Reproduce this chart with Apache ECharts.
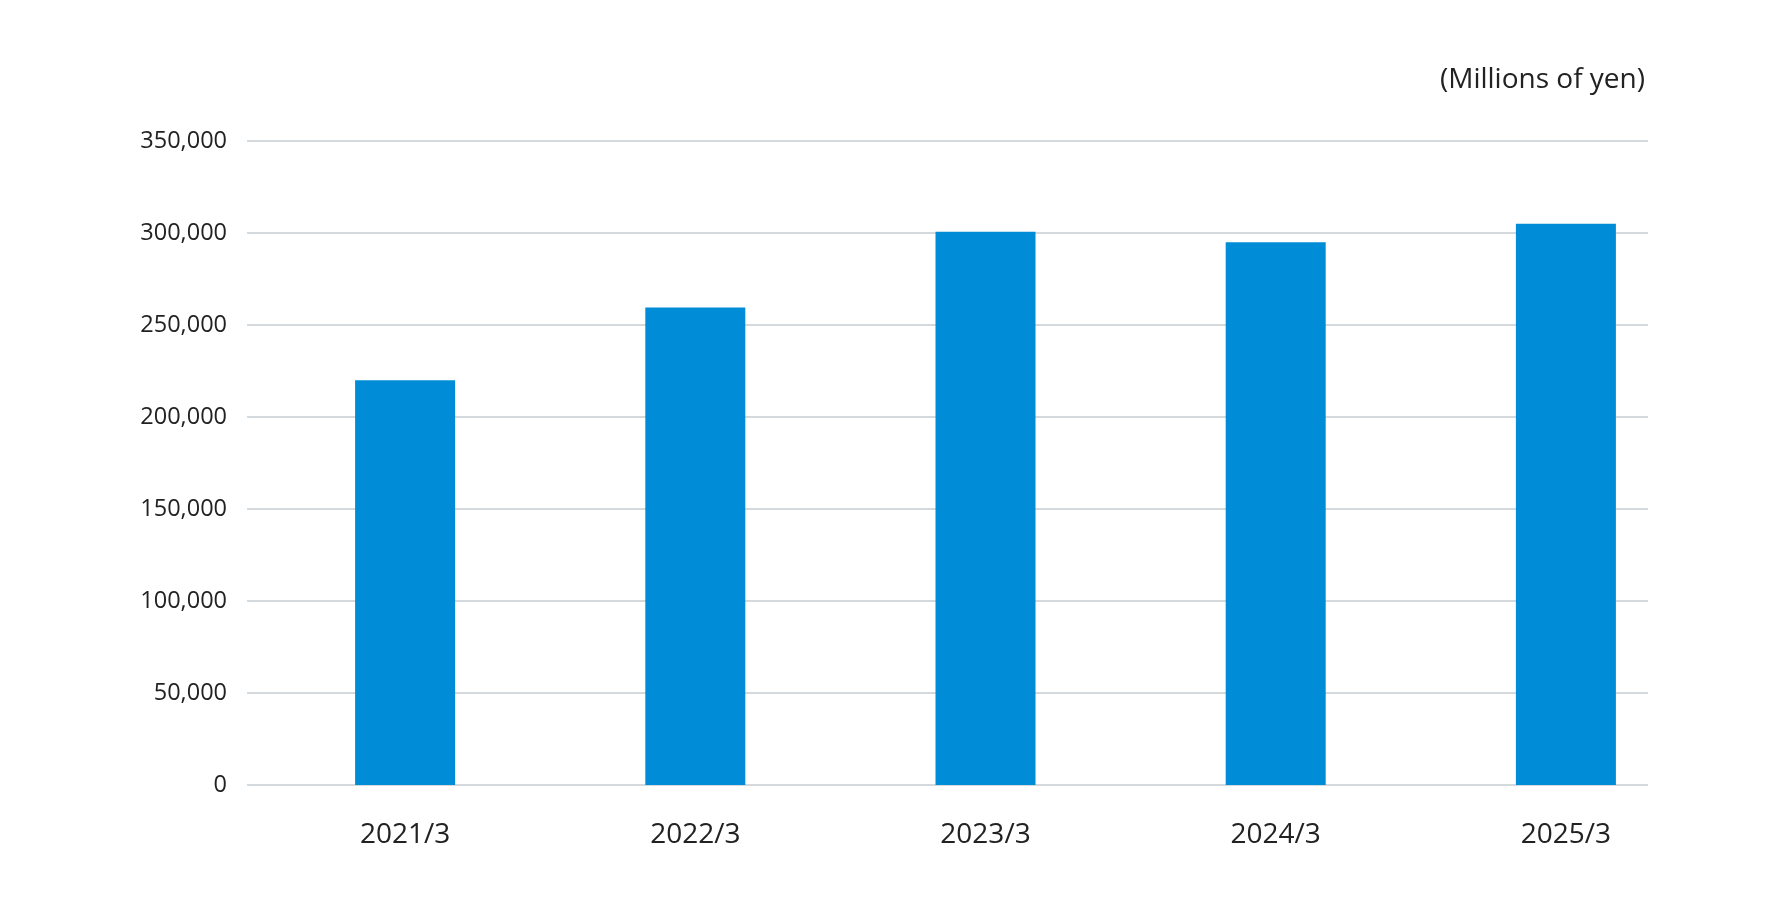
<!DOCTYPE html>
<html>
<head>
<meta charset="utf-8">
<script src="https://cdn.jsdelivr.net/npm/echarts@6/dist/echarts.min.js"></script>
<style>html,body{margin:0;padding:0;background:#fff}#chart{width:1780px;height:910px}</style>
</head>
<body>
<div id="chart"></div>
<script>
var categories = ['2021/3', '2022/3', '2023/3', '2024/3', '2025/3'];
var values = [220000, 259500, 300700, 295000, 305000];

var myChart = echarts.init(document.getElementById('chart'));
var option = {
  textStyle: { fontFamily: 'Open Sans' },
  title: {
    text: '(Millions of yen)',
    right: 130, top: 61,
    textStyle: { fontSize: 28, fontWeight: 'normal', color: '#222', fontFamily: 'Open Sans' }
  },
  // grid 0 carries the value axis and gridlines, grid 1 spaces the bars like the original
  grid: [
    { left: 247, right: 132, top: 141, bottom: 125 },
    { left: 260, right: 69, top: 141, bottom: 125 }
  ],
  xAxis: [
    { type: 'category', gridIndex: 0, data: categories, show: false },
    {
      type: 'category', gridIndex: 1,
      data: categories,
      axisTick: { show: false },
      axisLine: { show: false },
      axisLabel: { fontSize: 28, color: '#222', margin: 36 }
    }
  ],
  yAxis: [
    {
      type: 'value', gridIndex: 0,
      min: 0, max: 350000, interval: 50000,
      axisLabel: {
        fontSize: 23.5, color: '#222', margin: 20,
        formatter: function (v) { return v.toLocaleString('en-US'); }
      },
      splitLine: { lineStyle: { color: '#c5ccd2', width: 1.5 } }
    },
    { type: 'value', gridIndex: 1, min: 0, max: 350000, interval: 50000, show: false, splitLine: { show: false } }
  ],
  series: [{
    type: 'bar',
    xAxisIndex: 1, yAxisIndex: 1,
    data: values,
    barWidth: 100,
    itemStyle: { color: '#008cd6' }
  }]
};
myChart.setOption(option);
</script>
</body>
</html>
